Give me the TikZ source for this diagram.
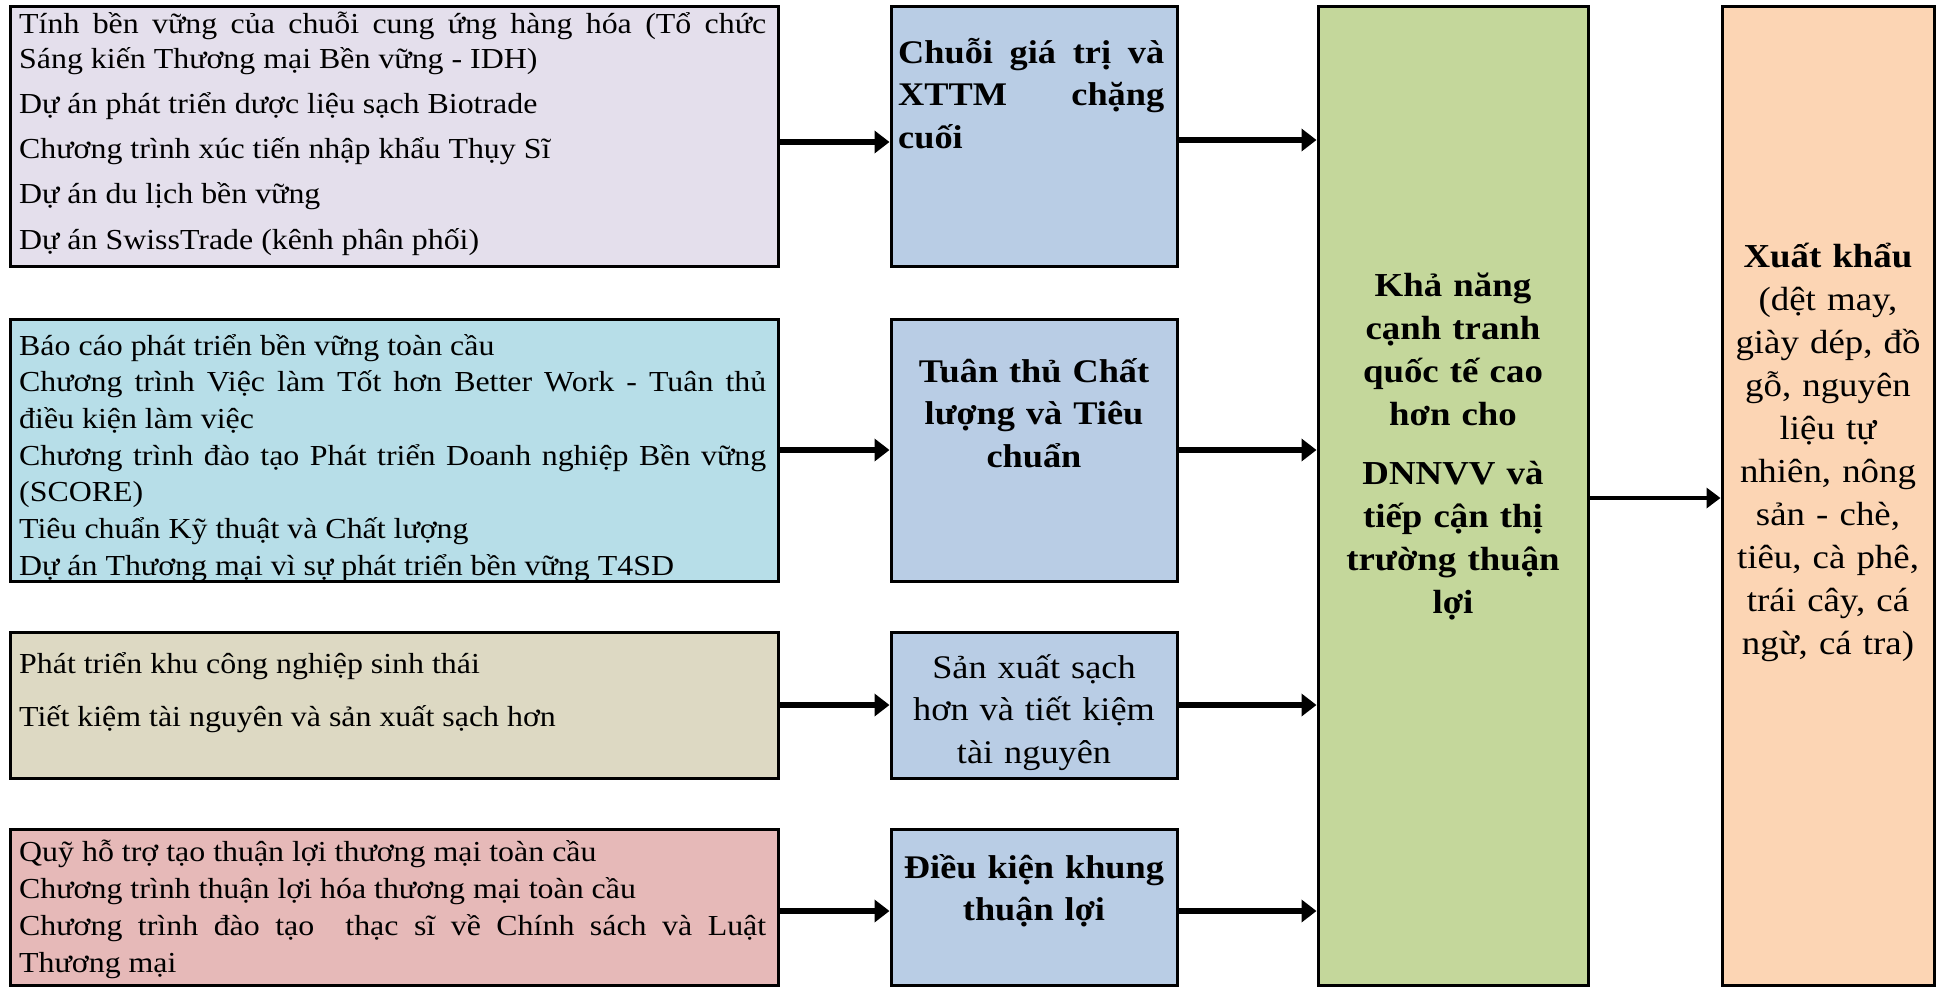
\documentclass[tikz,border=0pt]{standalone}
\usepackage{fontspec}
\setmainfont{Liberation Serif}[FakeStretch=1.1]
\usetikzlibrary{arrows.meta}
\definecolor{cLav}{HTML}{E4DFEC}
\definecolor{cAqua}{HTML}{B7DEE8}
\definecolor{cBeige}{HTML}{DDD9C3}
\definecolor{cPink}{HTML}{E6B9B8}
\definecolor{cMid}{HTML}{B9CDE5}
\definecolor{cGreen}{HTML}{C4D79B}
\definecolor{cOrange}{HTML}{FCD5B4}
\begin{document}
\begin{tikzpicture}[x=1pt,y=-1pt,
  box/.style={draw=black, line width=3pt, inner sep=0pt, rectangle},
  lbox/.style={box, minimum width=768pt},
  mbox/.style={box, minimum width=286pt, fill=cMid},
  ltext/.style={inner sep=0pt, anchor=base west, text width=747pt, align=justify,
    font=\fontsize{29}{35}\selectfont},
  mtext/.style={inner sep=0pt, anchor=base, text width=280pt, align=center,
    font=\bfseries\fontsize{33}{42.5}\selectfont},
  arr/.style={line width=5.5pt, -{Triangle[length=15pt,width=22pt]}},
  arrthin/.style={line width=4pt, -{Triangle[length=14pt,width=20pt]}}]
\useasboundingbox (0,0) rectangle (1937,986);
% left boxes
\node[lbox, fill=cLav, minimum height=260pt] (L1) at (394,136) {};
\node[lbox, fill=cAqua, minimum height=262pt] (L2) at (394,450) {};
\node[lbox, fill=cBeige, minimum height=146pt] (L3) at (394,705) {};
\node[lbox, fill=cPink, minimum height=156pt] (L4) at (394,907) {};
% middle boxes
\node[mbox, minimum height=260pt] (M1) at (1034,136) {};
\node[mbox, minimum height=262pt] (M2) at (1034,450) {};
\node[mbox, minimum height=146pt] (M3) at (1034,705) {};
\node[mbox, minimum height=156pt] (M4) at (1034,907) {};
% right boxes
\node[box, fill=cGreen, minimum width=270pt, minimum height=979pt] (G) at (1453,495.5) {};
\node[box, fill=cOrange, minimum width=212pt, minimum height=979pt] (O) at (1828,495.5) {};
% left texts
\node[ltext] (T1) at (19,33) {Tính bền vững của chuỗi cung ứng hàng hóa (Tổ chức\linebreak Sáng kiến Thương mại Bền vững - IDH)\\[10.3pt]Dự án phát triển dược liệu sạch Biotrade\\[10.3pt]Chương trình xúc tiến nhập khẩu Thụy Sĩ\\[10.3pt]Dự án du lịch bền vững\\[10.3pt]Dự án SwissTrade (kênh phân phối)};
\node[ltext, font=\fontsize{29}{36.7}\selectfont] (T2) at (19,355) {Báo cáo phát triển bền vững toàn cầu\\Chương trình Việc làm Tốt hơn Better Work - Tuân thủ\linebreak điều kiện làm việc\\Chương trình đào tạo Phát triển Doanh nghiệp Bền vững\linebreak (SCORE)\\Tiêu chuẩn Kỹ thuật và Chất lượng\\Dự án Thương mại vì sự phát triển bền vững T4SD};
\node[ltext, font=\fontsize{29}{53}\selectfont] (T3) at (19,673) {Phát triển khu công nghiệp sinh thái\\Tiết kiệm tài nguyên và sản xuất sạch hơn};
\node[ltext, font=\fontsize{29}{37}\selectfont] (T4) at (19,861) {Quỹ hỗ trợ tạo thuận lợi thương mại toàn cầu\\Chương trình thuận lợi hóa thương mại toàn cầu\\Chương trình đào tạo\ \ thạc sĩ về Chính sách và Luật\linebreak Thương mại};
% middle texts
\node[mtext, anchor=base west, text width=266pt, align=justify] (U1) at (898,63) {Chuỗi giá trị và\linebreak XTTM chặng\linebreak cuối};
\node[mtext] (U2) at (1034,382) {Tuân thủ Chất\\lượng và Tiêu\\chuẩn};
\node[mtext, font=\fontsize{33}{42.5}\selectfont] (U3) at (1034,678) {Sản xuất sạch\\hơn và tiết kiệm\\tài nguyên};
\node[mtext] (U4) at (1034,878) {Điều kiện khung\\thuận lợi};
% right texts
\node[mtext, text width=262pt, font=\bfseries\fontsize{33.5}{43}\selectfont] (UG) at (1453,296) {Khả năng\\cạnh tranh\\quốc tế cao\\hơn cho\\[16pt]DNNVV và\\tiếp cận thị\\trường thuận\\lợi};
\node[mtext, text width=205pt, font=\fontsize{33.5}{43}\selectfont] (UO) at (1828,267) {\textbf{Xuất khẩu}\\(dệt may,\\giày dép, đồ\\gỗ, nguyên\\liệu tự\\nhiên, nông\\sản - chè,\\tiêu, cà phê,\\trái cây, cá\\ngừ, cá tra)};
% connectors left -> middle
\draw[arr] ([yshift=-6pt]L1.east) -- ([yshift=-6pt]M1.west);
\draw[arr] (L2.east) -- (M2.west);
\draw[arr] (L3.east) -- (M3.west);
\draw[arr] ([yshift=-4pt]L4.east) -- ([yshift=-4pt]M4.west);
% middle -> green
\coordinate (m1o) at ([yshift=-4pt]M1.east);
\coordinate (m4o) at ([yshift=-4pt]M4.east);
\draw[arr] (m1o) -- (m1o -| G.west);
\draw[arr] (M2.east) -- (M2.east -| G.west);
\draw[arr] (M3.east) -- (M3.east -| G.west);
\draw[arr] (m4o) -- (m4o -| G.west);
% green -> orange
\coordinate (go) at ([yshift=-2.5pt]G.east);
\draw[arrthin] (go) -- (go -| O.west);
\end{tikzpicture}
\end{document}
